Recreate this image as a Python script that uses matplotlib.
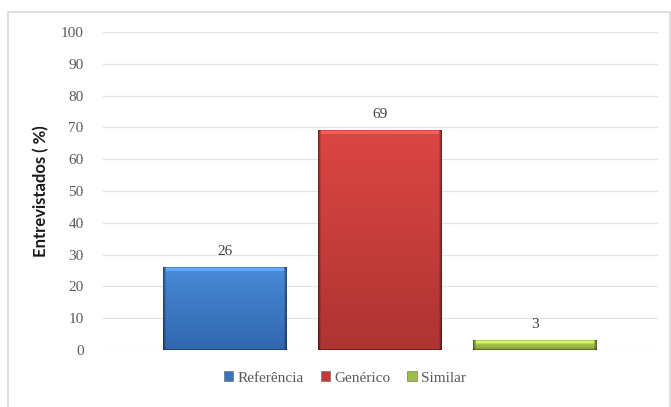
import numpy as np
import matplotlib.pyplot as plt
from matplotlib.patches import Rectangle
from matplotlib.colors import to_rgb

# Share of respondents by medicine type
categorias = ['Referência', 'Genérico', 'Similar']
valores = [26, 69, 3]
cores_topo = ['#4a8ad8', '#dc4644', '#b9d85a']
cores_base = ['#2f67ad', '#ad3432', '#86a437']
cores_legenda = ['#3a74bf', '#c53a39', '#9cbd4a']
yticks = list(range(0, 101, 10))

fig = plt.figure(figsize=(6.71, 4.07), dpi=100)
fig.patch.set_facecolor('white')

# light frame around the chart area
fig.patches.append(Rectangle((8 / 671, -0.01), 0.999 - 8 / 671, 1 - 12 / 407 + 0.01,
                             transform=fig.transFigure, fill=False,
                             edgecolor='#d9d9d9', linewidth=1.2))

ax = fig.add_axes([103 / 671, 1 - 350 / 407, 555 / 671, 318 / 407])
ax.set_facecolor('white')

x = np.arange(len(valores))
largura = 0.8
bars = ax.bar(x, valores, width=largura, color='none', edgecolor='none', zorder=3)


def sombreado(topo, base, altura_px):
    """RGB image: vertical gradient with darker side edges and a light top rim."""
    ny, nx = max(int(altura_px), 4), 125
    t = np.asarray(to_rgb(topo))
    b = np.asarray(to_rgb(base))
    f = np.linspace(0, 1, ny)[:, None, None]
    img = b * (1 - f) + t * f
    img = np.repeat(img, nx, axis=1)
    borda = np.ones(nx)
    borda[:3] = [0.55, 0.72, 0.88]
    borda[-3:] = [0.88, 0.72, 0.55]
    img = img * borda[None, :, None]
    img[0, :, :] *= 0.7
    rim = min(4, ny // 3)
    img[-rim:, 3:-3, :] = np.clip(img[-rim:, 3:-3, :] * 1.15 + 0.05, 0, 1)
    img[-1, :, :] *= 0.8
    return img[::-1]


for bar, ct, cb in zip(bars, cores_topo, cores_base):
    x0, y0 = bar.get_x(), bar.get_y()
    w, h = bar.get_width(), bar.get_height()
    img = sombreado(ct, cb, h * 3.18)
    ax.imshow(img, extent=[x0, x0 + w, y0, y0 + h], aspect='auto',
              interpolation='bilinear', zorder=3.5)

for xi, v in zip(x, valores):
    ax.text(xi, v + 3, str(v), ha='center', va='bottom', fontsize=11,
            family='Liberation Serif', color='#404040', zorder=5)

ax.set_xlim(-0.787, 2.794)
ax.set_ylim(0, 100)
ax.set_yticks(yticks)
ax.set_yticklabels([str(t) for t in yticks], family='Liberation Serif',
                   fontsize=11, color='#595959')
ax.set_xticks([])
ax.tick_params(axis='y', length=0, pad=14)
ax.grid(axis='y', color='#e3e3e3', linewidth=0.9, zorder=0)
for s in ax.spines.values():
    s.set_visible(False)

ax.set_ylabel('Entrevistados ( %)', fontsize=12, fontweight='bold',
              family='Lato', color='#1a1a1a', labelpad=8)

handles = [Rectangle((0, 0), 1, 1, facecolor=c, edgecolor='#606060', linewidth=0.4)
           for c in cores_legenda]
leg = fig.legend(handles, categorias, loc='center', bbox_to_anchor=(345 / 671, 1 - 378 / 407),
                 ncol=3, frameon=False, handlelength=0.6, handleheight=0.6,
                 handletextpad=0.3, columnspacing=1.1,
                 prop={'family': 'Liberation Serif', 'size': 11})
for t in leg.get_texts():
    t.set_color('#595959')

fig.savefig('out.png', dpi=100)
